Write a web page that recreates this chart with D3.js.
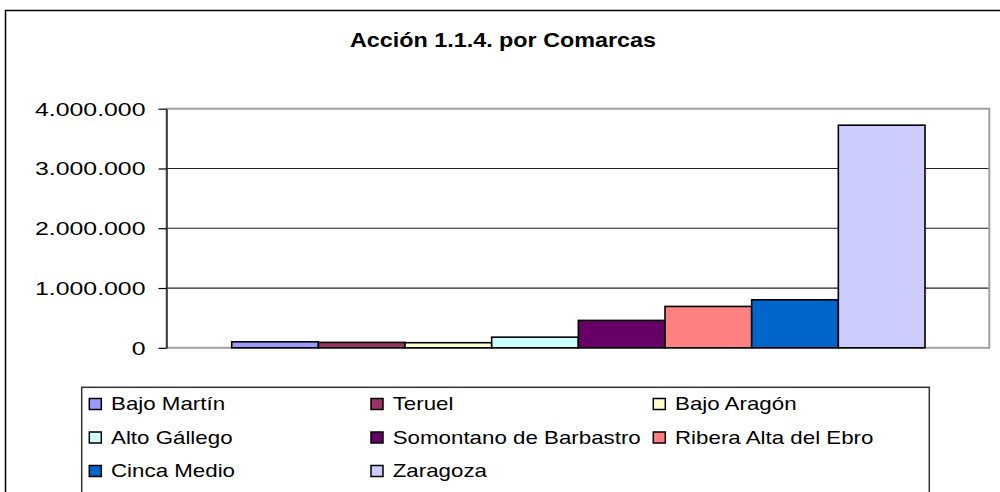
<!DOCTYPE html>
<html>
<head>
<meta charset="utf-8">
<script src="https://cdn.jsdelivr.net/npm/d3@7"></script>
<style>
  html, body { margin: 0; padding: 0; background: #fff; }
  svg { display: block; font-family: "Liberation Sans", Arial, sans-serif; }
</style>
</head>
<body>
<svg id="chart" width="1000" height="492"></svg>
<script>
const title = "Acción 1.1.4. por Comarcas";
const categories = ["Bajo Martín", "Teruel", "Bajo Aragón", "Alto Gállego", "Somontano de Barbastro", "Ribera Alta del Ebro", "Cinca Medio", "Zaragoza"];
const values = [100000, 90000, 85000, 178000, 458000, 692000, 803000, 3724000];
const colors = ["#9999FF", "#993366", "#FFFFCC", "#CCFFFF", "#660066", "#FF8080", "#0066CC", "#CCCCFF"];
const tickValues = [0, 1000000, 2000000, 3000000, 4000000];
const tickLabels = ["0", "1.000.000", "2.000.000", "3.000.000", "4.000.000"];

const svg = d3.select("#chart");

// layout
const plot = { left: 166.5, right: 989.3, top: 108.7, bottom: 347.8 };
const barsLeft = 231.7, barsRight = 925;

// outer chart border
svg.append("rect")
  .attr("x", 5.5).attr("y", 10.5)
  .attr("width", 1010).attr("height", 500)
  .attr("fill", "#fff").attr("stroke", "#000").attr("stroke-width", 1.5);

// title
svg.append("text")
  .attr("x", 503).attr("y", 47.3)
  .attr("text-anchor", "middle")
  .attr("font-size", 21).attr("font-weight", "bold")
  .attr("textLength", 306).attr("lengthAdjust", "spacingAndGlyphs")
  .text(title);

const y = d3.scaleLinear().domain([0, 4000000]).range([plot.bottom, plot.top]);
const x = d3.scaleBand().domain(categories).range([barsLeft, barsRight]).padding(0);

// gridlines
svg.append("g").selectAll("line")
  .data(tickValues.filter(v => v > 0 && v < 4000000))
  .join("line")
  .attr("x1", plot.left).attr("x2", plot.right)
  .attr("y1", d => y(d)).attr("y2", d => y(d))
  .attr("stroke", "#222").attr("stroke-width", 1.2);

// plot area border (gray)
svg.append("rect")
  .attr("x", plot.left).attr("y", plot.top)
  .attr("width", plot.right - plot.left).attr("height", plot.bottom - plot.top)
  .attr("fill", "none").attr("stroke", "#a0a0a0").attr("stroke-width", 2);

// bars
svg.append("g").selectAll("rect")
  .data(categories)
  .join("rect")
  .attr("x", d => x(d))
  .attr("y", (d, i) => y(values[i]))
  .attr("width", x.bandwidth())
  .attr("height", (d, i) => y(0) - y(values[i]))
  .attr("fill", (d, i) => colors[i])
  .attr("stroke", "#000").attr("stroke-width", 1.6);

// y axis
const yAxis = d3.axisLeft(y)
  .tickValues(tickValues)
  .tickFormat((d, i) => tickLabels[i])
  .tickSize(8).tickSizeOuter(0).tickPadding(13);
const ga = svg.append("g").attr("transform", `translate(${plot.left},0)`).call(yAxis);
ga.select(".domain").attr("stroke", "#000").attr("stroke-width", 1.2);
ga.selectAll(".tick line").attr("stroke", "#000").attr("stroke-width", 1.2);
ga.selectAll(".tick text")
  .attr("font-size", 18)
  .attr("font-family", "Liberation Sans, Arial, sans-serif")
  .attr("fill", "#000")
  .attr("dy", null)
  .attr("x", 0).attr("y", 6.4)
  .attr("transform", "translate(-21,0) scale(1.38,1)");

// legend
const legend = svg.append("g");
legend.append("rect")
  .attr("x", 81.7).attr("y", 387.3)
  .attr("width", 929.3 - 81.7).attr("height", 200)
  .attr("fill", "#fff").attr("stroke", "#333").attr("stroke-width", 1.5);

const colX = [89.3, 371, 653.3];
const rowY = [404, 437.5, 471];
const items = legend.selectAll("g.item")
  .data(categories)
  .join("g")
  .attr("class", "item")
  .attr("transform", (d, i) => `translate(${colX[i % 3]},${rowY[Math.floor(i / 3)]})`);
items.append("rect")
  .attr("x", 0).attr("y", -5.5)
  .attr("width", 12).attr("height", 11)
  .attr("fill", (d, i) => colors[i])
  .attr("stroke", "#000").attr("stroke-width", 1.5);
items.append("text")
  .attr("transform", "translate(21.7,6.4) scale(1.24,1)")
  .attr("font-size", 18)
  .attr("fill", "#000")
  .text(d => d);
</script>
</body>
</html>
